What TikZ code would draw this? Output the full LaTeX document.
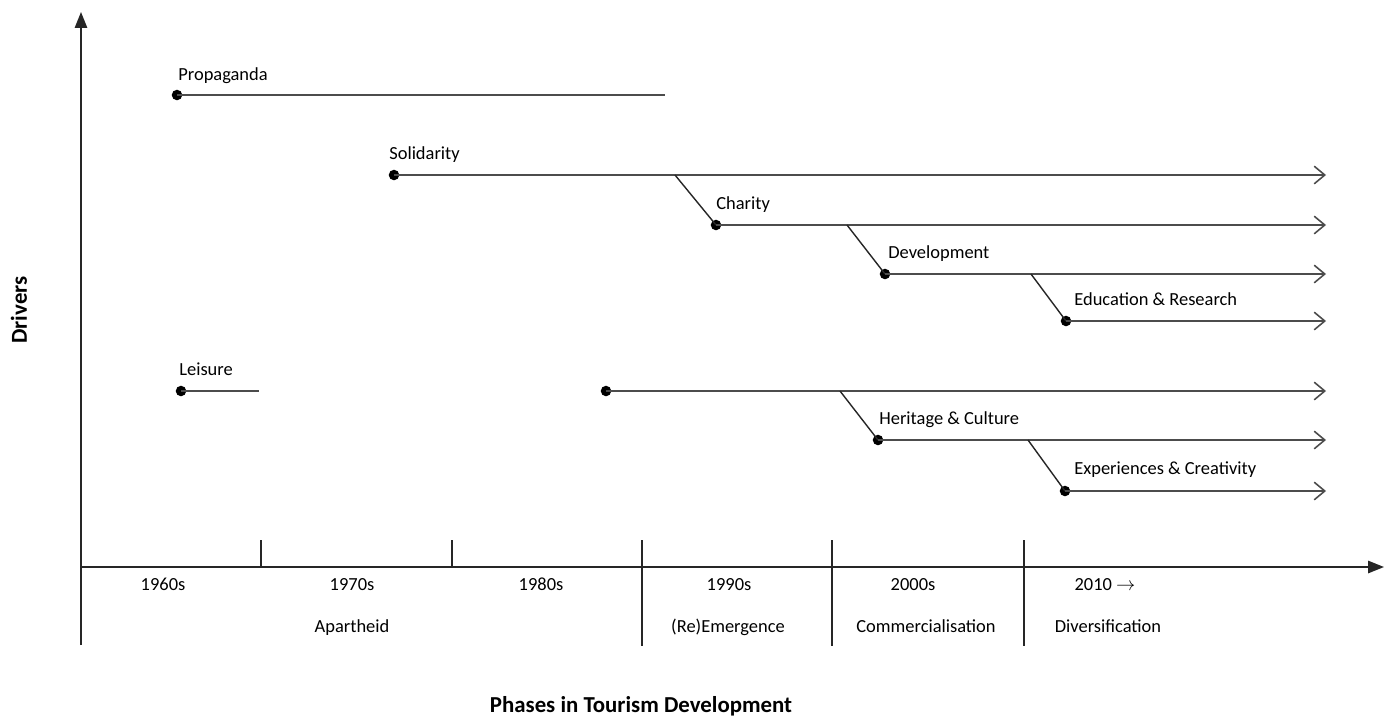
\documentclass[tikz,border=0pt]{standalone}
\usepackage{fontspec}
\setmainfont{Carlito}
\usetikzlibrary{arrows.meta}
\begin{document}
\begin{tikzpicture}[x=0.02cm,y=-0.02cm,
  axis/.style={draw=black!85, line width=0.9pt, -{Triangle[length=9pt,width=7pt]}},
  tick/.style={draw=black!85, line width=0.8pt},
  drv/.style={draw=black!70, line width=1.1pt},
  drvarr/.style={drv, -{Straight Barb[length=6pt,width=10pt,line width=0.9pt]}},
  link/.style={draw=black!85, line width=0.8pt},
  dot/.style={circle, fill=black, inner sep=0pt, minimum size=6pt},
  lbl/.style={anchor=west, inner sep=0pt, text height=8pt, text depth=2pt, font=\fontsize{10.5}{12}\selectfont},
  yr/.style={inner sep=0pt, text height=8pt, text depth=2pt, font=\fontsize{10.5}{12}\selectfont},
  ttl/.style={inner sep=0pt, font=\fontsize{13}{15}\selectfont\bfseries}]
\useasboundingbox (0,0) rectangle (1389,718);
% axes
\coordinate (o) at (81,567);
\coordinate (ytop) at (81,12);
\coordinate (ybot) at (81,645);
\coordinate (xend) at (1384,567);
\draw[axis] (ybot) -- (ytop);
\draw[axis] (o) -- (xend);
% ticks
\coordinate (t1a) at (261,540); \coordinate (t1b) at (261,567);
\coordinate (t2a) at (452,540); \coordinate (t2b) at (452,567);
\coordinate (t3a) at (642,540); \coordinate (t3b) at (642,646);
\coordinate (t4a) at (832,540); \coordinate (t4b) at (832,646);
\coordinate (t5a) at (1024,540); \coordinate (t5b) at (1024,646);
\draw[tick] (t1a) -- (t1b);
\draw[tick] (t2a) -- (t2b);
\draw[tick] (t3a) -- (t3b);
\draw[tick] (t4a) -- (t4b);
\draw[tick] (t5a) -- (t5b);
% year labels
\node[yr] (y60) at (163,585) {1960s};
\node[yr] (y70) at (352,585) {1970s};
\node[yr] (y80) at (541,585) {1980s};
\node[yr] (y90) at (729,585) {1990s};
\node[yr] (y00) at (913,585) {2000s};
\node[yr] (y10) at (1105,585) {2010 $\rightarrow$};
% phase labels
\node[yr] (ph1) at (352,627) {Apartheid};
\node[yr] (ph2) at (728,627) {(Re)Emergence};
\node[yr] (ph3) at (926,627) {Commercialisation};
\node[yr] (ph4) at (1108,627) {Diversification};
% axis titles
\node[ttl] (xt) at (641,706) {Phases in Tourism Development};
\node[ttl, rotate=90] (yt) at (19,310) {Drivers};
% Propaganda
\node[dot] (d1) at (177,95) {};
\coordinate (e1) at (665,95);
\draw[drv] (d1.center) -- (e1);
\node[lbl] (l1) at (178,75) {Propaganda};
% Solidarity
\node[dot] (d2) at (394,175) {};
\coordinate (e2) at (1326,175);
\draw[drvarr] (d2.center) -- (e2);
\node[lbl] (l2) at (389,154) {Solidarity};
% Charity
\coordinate (b3) at (675,175);
\node[dot] (d3) at (716,225) {};
\coordinate (e3) at (1326,225);
\draw[link] (b3) -- (d3.center);
\draw[drvarr] (d3.center) -- (e3);
\node[lbl] (l3) at (716,204) {Charity};
% Development
\coordinate (b4) at (847,225);
\node[dot] (d4) at (885,274) {};
\coordinate (e4) at (1326,274);
\draw[link] (b4) -- (d4.center);
\draw[drvarr] (d4.center) -- (e4);
\node[lbl] (l4) at (888,253) {Development};
% Education & Research
\coordinate (b5) at (1031,274);
\node[dot] (d5) at (1066,321) {};
\coordinate (e5) at (1326,321);
\draw[link] (b5) -- (d5.center);
\draw[drvarr] (d5.center) -- (e5);
\node[lbl] (l5) at (1074,300) {Education \& Research};
% Leisure
\node[dot] (d6) at (181,391) {};
\coordinate (e6) at (259,391);
\draw[drv] (d6.center) -- (e6);
\node[lbl] (l6) at (179,370) {Leisure};
% unlabeled
\node[dot] (d7) at (606,391) {};
\coordinate (e7) at (1326,391);
\draw[drvarr] (d7.center) -- (e7);
% Heritage & Culture
\coordinate (b8) at (840,391);
\node[dot] (d8) at (878,440) {};
\coordinate (e8) at (1326,440);
\draw[link] (b8) -- (d8.center);
\draw[drvarr] (d8.center) -- (e8);
\node[lbl] (l8) at (879,419) {Heritage \& Culture};
% Experiences & Creativity
\coordinate (b9) at (1028,440);
\node[dot] (d9) at (1065,491) {};
\coordinate (e9) at (1326,491);
\draw[link] (b9) -- (d9.center);
\draw[drvarr] (d9.center) -- (e9);
\node[lbl] (l9) at (1074,469) {Experiences \& Creativity};
\end{tikzpicture}
\end{document}
